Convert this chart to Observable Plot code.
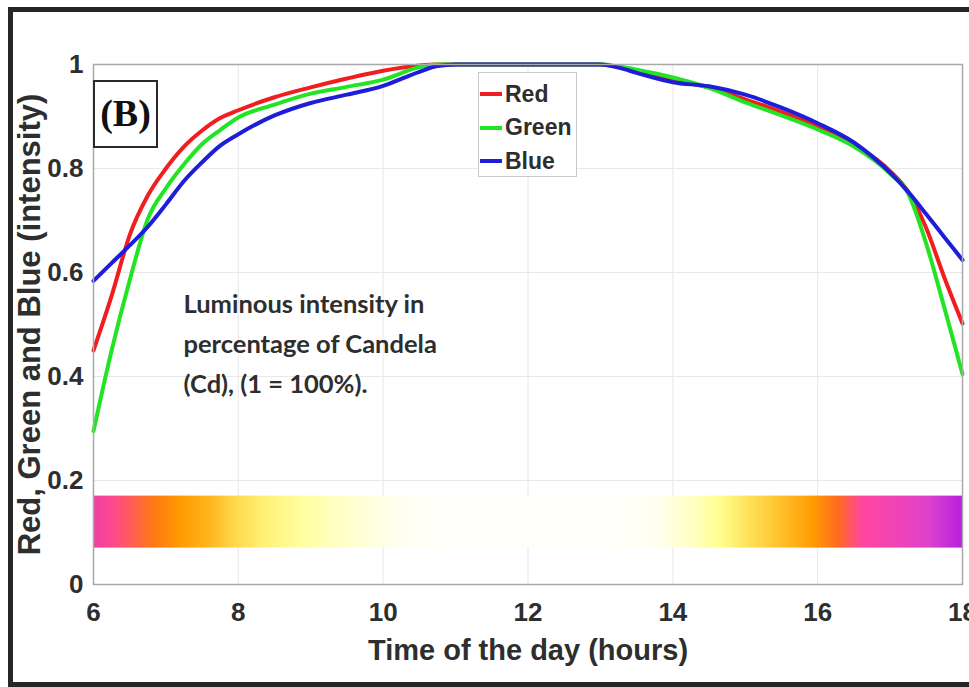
<!DOCTYPE html>
<html>
<head>
<meta charset="utf-8">
<script src="https://cdn.jsdelivr.net/npm/d3@7"></script>
<script src="https://cdn.jsdelivr.net/npm/@observablehq/plot@0.6"></script>
<style>
  html, body { margin: 0; padding: 0; background: #fff; }
  #wrap { position: relative; width: 969px; height: 687px; overflow: hidden; background: #fff; }
  #wrap svg { position: absolute; left: 0; top: 0; }
  #border { position: absolute; left: 8px; top: 7px; width: 990px; height: 680px; box-sizing: border-box;
            border: 5px solid #262626; border-right: none; pointer-events: none; }
  #tag { position: absolute; left: 93px; top: 80px; width: 65px; height: 68px; box-sizing: border-box;
         border: 2.5px solid #2a2a2a; background: #fff; font-family: "Liberation Serif", "DejaVu Serif", serif;
         font-weight: bold; font-size: 38px; line-height: 62px; text-align: center; color: #111; }
  #legend { position: absolute; left: 478px; top: 72px; width: 99px; height: 105px; box-sizing: border-box;
            border: 1px solid #c9c9c9; background: #fff; font-family: "Liberation Sans", Arial, sans-serif;
            font-weight: bold; font-size: 23px; color: #2e2e2e; }
  .item { position: absolute; left: 1px; height: 30px; display: flex; align-items: center; }
  .swatch { width: 22px; height: 4px; margin-right: 3px; }
</style>
</head>
<body>
<div id="wrap"></div>
<script>
// ---- data ----
const hours = [6, 6.25, 6.5, 6.75, 7, 7.25, 7.5, 7.75, 8, 8.5, 9, 9.5, 10, 10.5, 10.75, 11, 12, 13, 13.25, 13.5, 14, 14.5, 15, 15.5, 16, 16.5, 17, 17.25, 17.5, 17.75, 18];
const redValues   = [0.450, 0.555, 0.672, 0.748, 0.800, 0.842, 0.873, 0.897, 0.912, 0.937, 0.956, 0.973, 0.988, 0.998, 1, 1, 1, 1, 0.995, 0.988, 0.970, 0.956, 0.933, 0.909, 0.881, 0.846, 0.795, 0.755, 0.685, 0.590, 0.502];
const greenValues = [0.295, 0.450, 0.585, 0.703, 0.762, 0.808, 0.847, 0.874, 0.898, 0.923, 0.944, 0.957, 0.971, 0.995, 1, 1, 1, 1, 0.996, 0.990, 0.975, 0.955, 0.927, 0.902, 0.875, 0.842, 0.790, 0.752, 0.655, 0.532, 0.405];
const blueValues  = [0.584, 0.618, 0.652, 0.688, 0.731, 0.776, 0.812, 0.844, 0.866, 0.902, 0.926, 0.942, 0.959, 0.986, 0.997, 1, 1, 1, 0.994, 0.984, 0.966, 0.958, 0.942, 0.917, 0.887, 0.850, 0.792, 0.755, 0.712, 0.668, 0.624];

const seriesNames  = ["Red", "Green", "Blue"];
const seriesColors = ["#f01e1e", "#22e422", "#1e1ed8"];

const xTicks = [6, 8, 10, 12, 14, 16, 18];
const yTicks = [0, 0.2, 0.4, 0.6, 0.8, 1];

// colour band of the day (sunrise -> noon -> sunset)
const bandHours  = [6, 6.3, 6.55, 6.85, 7.2, 7.6, 7.95, 8.4, 8.9, 9.4, 10.2, 11, 13, 13.8, 14.3, 14.65, 15.05, 15.5, 15.95, 16.3, 16.62, 17.1, 17.55, 18];
const bandColors = ["#ee3fa6", "#ff4a8a", "#ff5f50", "#ff7a12", "#ff9a00", "#ffb51c", "#ffd84a", "#fff27a", "#ffffa0", "#ffffc6", "#fffff0", "#fffffa", "#fffffa", "#fffff0", "#ffffc0", "#ffff90", "#ffe25a", "#ffc02a", "#ff9a00", "#ff6a22", "#ff45a0", "#f044b6", "#dc40cc", "#b820e0"];
const bandLow = 0.07, bandHigh = 0.17;

const annotationLines = ["Luminous intensity in", "percentage of Candela", "(Cd), (1 = 100%)."];
const xLabel = "Time of the day (hours)";
const yLabel = "Red, Green and Blue (intensity)";
const panelTag = "(B)";

// ---- build ----
const valuesBySeries = { Red: redValues, Green: greenValues, Blue: blueValues };
const colorOf = Object.fromEntries(seriesNames.map((n, i) => [n, seriesColors[i]]));
const rows = seriesNames.flatMap(name => hours.map((h, i) => ({ hour: h, value: valuesBySeries[name][i], series: name })));
const band = [{ start: hours[0], end: hours[hours.length - 1], low: bandLow, high: bandHigh }];

const x0 = bandHours[0], x1 = bandHours[bandHours.length - 1];
const gradientDefs = () => {
  const defs = d3.create("svg:defs");
  const g = defs.append("linearGradient").attr("id", "dayband").attr("x1", "0").attr("x2", "1").attr("y1", "0").attr("y2", "0");
  bandHours.forEach((h, i) => {
    g.append("stop").attr("offset", (h - x0) / (x1 - x0)).attr("stop-color", bandColors[i]);
  });
  return defs.node();
};

const sans = "'Liberation Sans', Arial, sans-serif";
const ink = "#2e2e2e";

const chart = Plot.plot({
  width: 969,
  height: 687,
  marginLeft: 93,
  marginRight: 7,
  marginTop: 64,
  marginBottom: 103,
  style: { fontFamily: sans, background: "transparent", overflow: "visible" },
  x: { domain: [6, 18] },
  y: { domain: [0, 1] },
  marks: [
    gradientDefs,
    Plot.gridX(xTicks, { stroke: "#e8e8e8", strokeOpacity: 1 }),
    Plot.gridY(yTicks, { stroke: "#e8e8e8", strokeOpacity: 1 }),
    Plot.rect(band, { x1: "start", x2: "end", y1: "low", y2: "high", fill: "url(#dayband)" }),
    Plot.line(rows, { x: "hour", y: "value", z: "series", stroke: d => colorOf[d.series], strokeWidth: 4, curve: "monotone-x" }),
    Plot.frame({ stroke: "#a9a9a9", strokeWidth: 1.5 }),
    Plot.axisX(xTicks, { tickSize: 0, tickPadding: 18, fontSize: 26, fontWeight: "bold", fill: ink, label: null }),
    Plot.axisY(yTicks, { tickSize: 0, tickPadding: 10, fontSize: 26, fontWeight: "bold", fill: ink, label: null, tickFormat: d => String(d) }),
    Plot.text([annotationLines.join("\n")], {
      frameAnchor: "top-left", dx: 90, dy: 276, textAnchor: "start", lineAnchor: "middle", lineHeight: 1.57,
      fontFamily: "Lato, 'Open Sans', sans-serif", fontSize: 25.5, fontWeight: "bold", fill: ink
    }),
    Plot.text([xLabel], { frameAnchor: "bottom", dy: 75, fontSize: 29, fontWeight: "bold", fill: ink }),
    Plot.text([yLabel], { frameAnchor: "left", dx: -63, rotate: -90, textAnchor: "middle", fontSize: 31, fontWeight: "bold", fill: ink })
  ]
});

const wrap = document.getElementById("wrap");
wrap.appendChild(chart);

const border = document.createElement("div");
border.id = "border";
wrap.appendChild(border);

const tag = document.createElement("div");
tag.id = "tag";
tag.textContent = panelTag;
wrap.appendChild(tag);

const legend = document.createElement("div");
legend.id = "legend";
seriesNames.forEach((name, i) => {
  const item = document.createElement("div");
  item.className = "item";
  item.style.top = (6 + i * 33.5) + "px";
  const sw = document.createElement("span");
  sw.className = "swatch";
  sw.style.background = seriesColors[i];
  const label = document.createElement("span");
  label.textContent = name;
  item.appendChild(sw);
  item.appendChild(label);
  legend.appendChild(item);
});
wrap.appendChild(legend);
</script>
</body>
</html>
